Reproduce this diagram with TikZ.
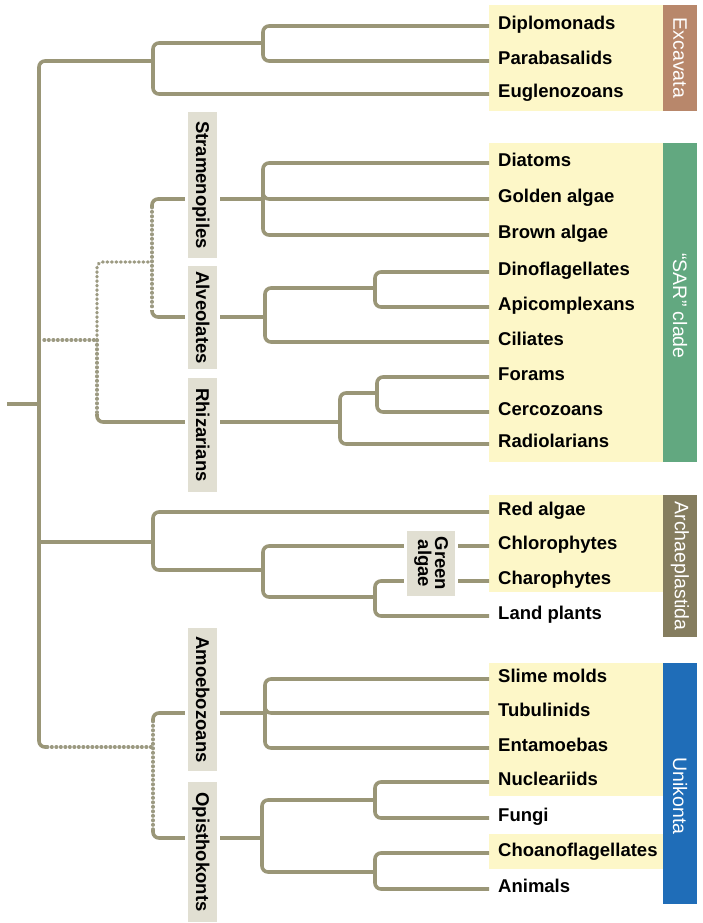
\documentclass[tikz,border=0pt]{standalone}
\usepackage{fontspec}
\setmainfont{Liberation Sans}
\definecolor{twig}{HTML}{9A9677}
\definecolor{dotcol}{HTML}{9C9A82}
\definecolor{groupbg}{HTML}{E1DFD2}
\definecolor{panelbg}{HTML}{FDF7C8}
\definecolor{excbar}{HTML}{B8876B}
\definecolor{sarbar}{HTML}{62A880}
\definecolor{arcbar}{HTML}{857D5F}
\definecolor{unibar}{HTML}{1F6DB8}

\begin{document}
\begin{tikzpicture}[
  x=1pt, y=-1pt,
  branch/.style={draw=twig, line width=3.6pt, rounded corners=6pt},
  dotbranch/.style={draw=dotcol, line width=3.4pt, line cap=round,
                    dash pattern=on 0.6pt off 3.9pt, rounded corners=6pt},
  leaf/.style={anchor=west, inner xsep=9pt, inner ysep=0pt, text height=12pt,
               text depth=4.6pt, font=\fontsize{18.5}{18}\selectfont\bfseries},
  groupbox/.style={fill=groupbg, draw=white, line width=3pt, rotate=-90,
                   inner sep=0pt, font=\fontsize{18.5}{17}\selectfont\bfseries},
  group/.style={groupbox, minimum height=32pt, text height=13pt, text depth=0pt},
  clade/.style={rotate=-90, text=white, inner sep=0pt,
                font=\fontsize{19.5}{19}\selectfont}
]
\useasboundingbox (0,0) rectangle (702,923);

% coloured panels and clade bars
\fill[panelbg] (489,5) rectangle (663,111);
\fill[panelbg] (489,143) rectangle (663,462);
\fill[panelbg] (489,495) rectangle (663,592);
\fill[panelbg] (489,663) rectangle (663,796);
\fill[panelbg] (489,834) rectangle (663,869);
\fill[excbar] (663,5) rectangle (697,111);
\fill[sarbar] (663,143) rectangle (697,462);
\fill[arcbar] (663,495) rectangle (697,637);
\fill[unibar] (663,663) rectangle (697,904);
\node[clade] (excl) at (680,58) {Excavata};
\node[clade] (sarl) at (680,306) {“SAR” clade};
\node[clade] (arcl) at (680,566) {Archaeplastida};
\node[clade] (unil) at (680,796) {Unikonta};

% leaves
\node[leaf] (diplo) at (489,26) {Diplomonads};
\node[leaf] (parab) at (489,61) {Parabasalids};
\node[leaf] (eugle) at (489,94) {Euglenozoans};
\node[leaf] (diato) at (489,163) {Diatoms};
\node[leaf] (golden) at (489,199) {Golden algae};
\node[leaf] (brown) at (489,235) {Brown algae};
\node[leaf] (dino) at (489,272) {Dinoflagellates};
\node[leaf] (apico) at (489,307) {Apicomplexans};
\node[leaf] (cilia) at (489,342) {Ciliates};
\node[leaf] (foram) at (489,377) {Forams};
\node[leaf] (cerco) at (489,412) {Cercozoans};
\node[leaf] (radio) at (489,444) {Radiolarians};
\node[leaf] (red) at (489,512) {Red algae};
\node[leaf] (chloro) at (489,546) {Chlorophytes};
\node[leaf] (charo) at (489,581) {Charophytes};
\node[leaf] (land) at (489,616) {Land plants};
\node[leaf] (slime) at (489,679) {Slime molds};
\node[leaf] (tubul) at (489,713) {Tubulinids};
\node[leaf] (entam) at (489,748) {Entamoebas};
\node[leaf] (nucle) at (489,782) {Nucleariids};
\node[leaf] (fungi) at (489,818) {Fungi};
\node[leaf] (choano) at (489,853) {Choanoflagellates};
\node[leaf] (animal) at (489,889) {Animals};

% branch points
\coordinate (root) at (7,404);
\coordinate (euk) at (39,404);
\coordinate (exc) at (153,61);
\coordinate (dipa) at (263,43);
\coordinate (sar) at (97,340);
\coordinate (sa) at (152,262);
\coordinate (stk) at (152,207);
\coordinate (alk) at (152,310);
\coordinate (str) at (263,199);
\coordinate (alv) at (265,317);
\coordinate (dac) at (375,288);
\coordinate (rhk) at (97,414);
\coordinate (rhi) at (340,422);
\coordinate (fce) at (377,393);
\coordinate (arc) at (153,542);
\coordinate (grn) at (263,570);
\coordinate (chla) at (375,597);
\coordinate (unk) at (47,747);
\coordinate (uni) at (153,747);
\coordinate (amk) at (153,721);
\coordinate (opk) at (153,830);
\coordinate (amo) at (265,713);
\coordinate (opi) at (262,838);
\coordinate (nufu) at (375,800);
\coordinate (chan) at (375,872);

% backbone
\draw[branch] (root) -- (euk);
\draw[branch] (euk) |- (exc);
\draw[branch] (euk) |- (unk);

% Excavata
\draw[branch] (exc) |- (dipa);
\draw[branch] (exc) |- (eugle.west);
\draw[branch] (dipa) |- (diplo.west);
\draw[branch] (dipa) |- (parab.west);

% SAR
\draw[dotbranch, shorten <=5pt] (euk |- sar) -- (sar);
\draw[dotbranch] (sar) |- (sa);
\draw[dotbranch] (sar) -- (rhk);
\draw[dotbranch] (stk) -- (alk);
\draw[branch] (rhk) |- (rhi);
\draw[branch] (stk) |- (str);
\draw[branch] (alk) |- (alv);
\draw[branch] (str) |- (diato.west);
\draw[branch] (str) |- (golden.west);
\draw[branch] (str) |- (brown.west);
\draw[branch] (alv) |- (dac);
\draw[branch] (alv) |- (cilia.west);
\draw[branch] (dac) |- (dino.west);
\draw[branch] (dac) |- (apico.west);
\draw[branch] (rhi) |- (fce);
\draw[branch] (rhi) |- (radio.west);
\draw[branch] (fce) |- (foram.west);
\draw[branch] (fce) |- (cerco.west);

% Archaeplastida
\draw[branch] (euk |- arc) -- (arc);
\draw[branch] (arc) |- (red.west);
\draw[branch] (arc) |- (grn);
\draw[branch] (grn) |- (chloro.west);
\draw[branch] (grn) |- (chla);
\draw[branch] (chla) |- (charo.west);
\draw[branch] (chla) |- (land.west);

% Unikonta
\draw[dotbranch] (unk) -- (uni);
\draw[dotbranch] (amk) -- (opk);
\draw[branch] (amk) |- (amo);
\draw[branch] (opk) |- (opi);
\draw[branch] (amo) |- (slime.west);
\draw[branch] (amo) |- (tubul.west);
\draw[branch] (amo) |- (entam.west);
\draw[branch] (opi) |- (nufu);
\draw[branch] (opi) |- (chan);
\draw[branch] (nufu) |- (nucle.west);
\draw[branch] (nufu) |- (fungi.west);
\draw[branch] (chan) |- (choano.west);
\draw[branch] (chan) |- (animal.west);

% group labels over the branches
\node[group, minimum width=149pt] (strl) at (202.5,185) {Stramenopiles};
\node[group, minimum width=106pt] (alvl) at (202.5,317.5) {Alveolates};
\node[group, minimum width=117pt] (rhil) at (202.5,435) {Rhizarians};
\node[group, minimum width=146pt] (amol) at (202.5,699.5) {Amoebozoans};
\node[group, minimum width=143pt] (opil) at (202.5,852) {Opisthokonts};
\node[groupbox, minimum width=68pt, minimum height=51pt, align=center] (grnl)
  at (431,563.5) {Green\\algae};
\end{tikzpicture}
\end{document}
